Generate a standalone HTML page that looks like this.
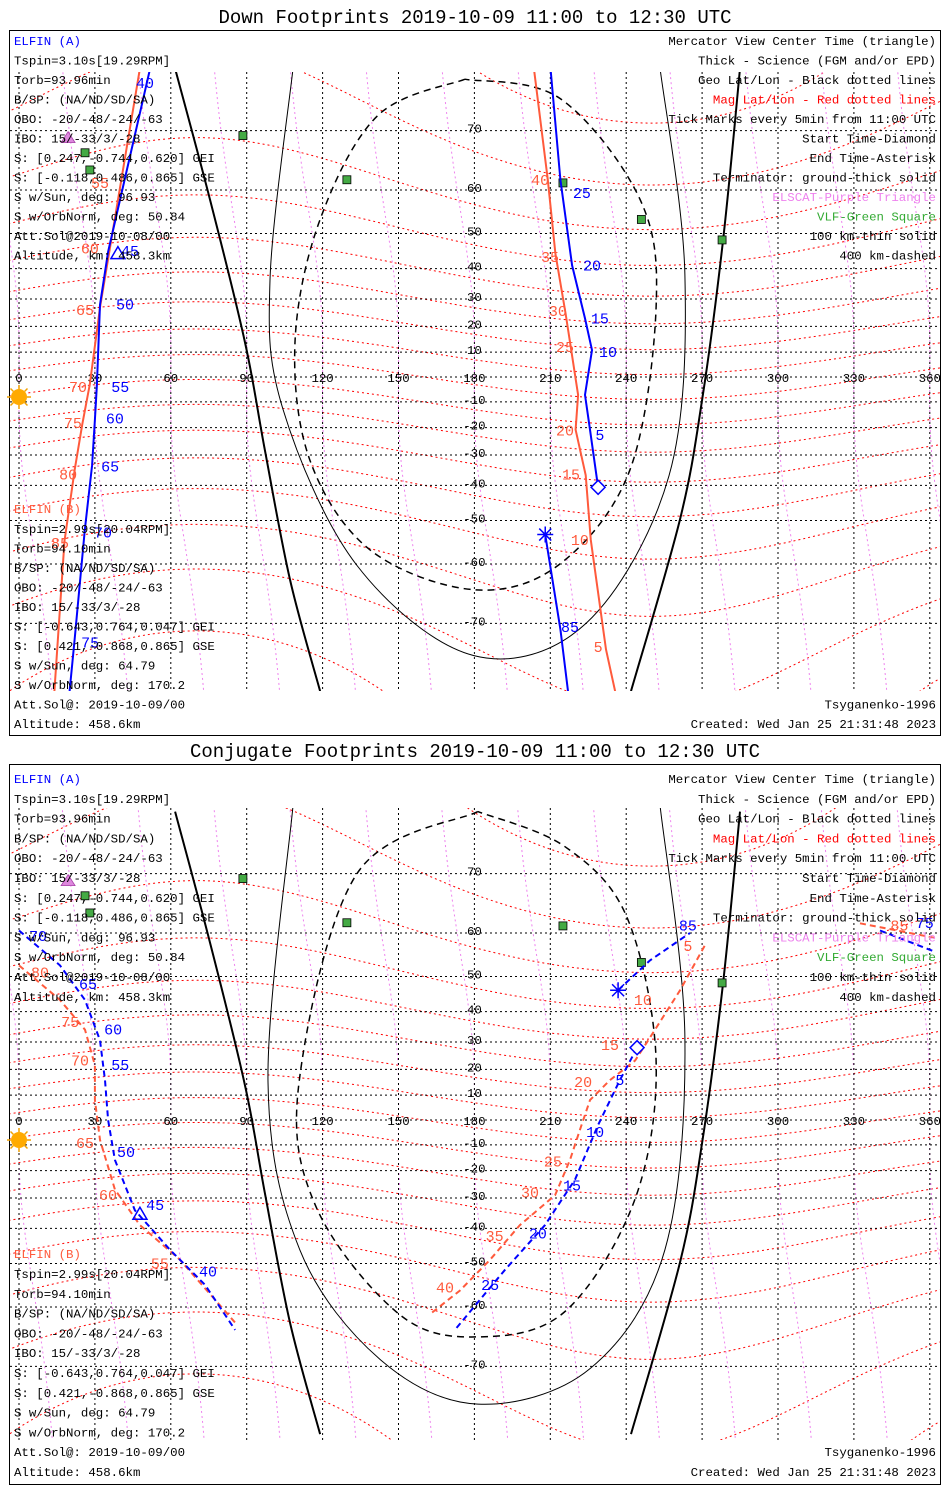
<!DOCTYPE html>
<html><head><meta charset="utf-8"><style>
html,body{margin:0;padding:0;background:#fff;}
svg{display:block;}
text{font-family:"Liberation Mono",monospace;}
</style></head><body>
<svg id="chart" width="950" height="1500" viewBox="0 0 950 1500" xmlns="http://www.w3.org/2000/svg">
<rect x="0" y="0" width="950" height="1500" fill="#fff"/>
</svg>
<script>
// ---------- data ----------
const lonTicks = [0,30,60,90,120,150,180,210,240,270,300,330,360];
const lonTickLabels = ["0","30","60","90","120","150","180","210","240","270","300","330","360"];
const latTicks = [-70,-60,-50,-40,-30,-20,-10,10,20,30,40,50,60,70];
const latTickLabels = ["-70","-60","-50","-40","-30","-20","-10","10","20","30","40","50","60","70"];
const magLatLevels = [-80,-70,-60,-50,-40,-30,-20,-10,0,10,20,30,40,50,60,70,80];
const magLonLevels = [-30,0,30,60,90,120,150,180,210,240,270,300,330,360,390];
const vlfStations = [[88.5,69.3],[129.6,62],[26.1,66.7],[28,63.8],[215,61.4],[246,53.5],[277.9,48.3]];
const elscatStations = [[16.2,78],[19.4,69]];

// Down footprints
const downTermThickL = [[61.7,77],[75.5,58],[89.3,14],[97.2,-28.3],[107.1,-63],[119,-77.5]];
const downTermThickR = [[285,77],[278.3,48.3],[270,-9.2],[261.3,-49.6],[241.9,-77.5]];
const downThin = [[108.3,77],[99.2,36.4],[104.3,-12.8],[133.6,-60.3],[179.8,-74],[224.1,-70],[256.9,-37],[263.2,38],[253.4,77]];
const downDashed = [[176.3,76],[141.9,72],[119,53.5],[109.1,14],[115,-31.8],[138.7,-57],[179.8,-64.8],[213.8,-60],[241.5,-35],[251.8,27],[245.5,58],[213.8,74],[176.3,76]];
const downA1 = [[209,79.5],[214,62],[218.6,41],[223.7,23],[226.5,10.8],[223.7,-7.2],[225.7,-20.8],[228.9,-40.6]];
const downA1Ticks = [["30",211.9,77.9],["25",222.5,59.4],["20",226.5,41],["15",229.6,23],["10",232.8,10],["5",229.6,-22.7]];
const downA2 = [[208,-53.5],[214,-70.8],[217,-77.5]];
const downA2Ticks = [["85",217.8,-70.5]];
const downA3 = [[51.8,77],[35.2,45],[32,28],[30.8,-3.2],[30,-17],[28.9,-33.5],[26,-52.4],[22,-72],[20,-77.5]];
const downA3Ticks = [["40",49.8,75.6],["45",43.9,45.3],["50",41.9,28],["55",40,-4],["60",37.9,-16.5],["65",36,-34],["70",33.2,-53],["75",28.1,-72.5]];
const downB1 = [[202,79.5],[209,62],[212,44.5],[216,25],[218,12.7],[221,-7.2],[220,-20.8],[224,-36.8],[226,-54.8],[232,-73.3],[235.6,-77.5]];
const downB1Ticks = [["40",206,62],["35",209.9,43.5],["30",213,25.7],["25",215.8,12],["20",215.8,-21],["15",218.2,-36.5],["10",221.7,-54.8],["5",228.9,-73]];
const downB2 = [[47.8,77],[32,27],[28,-3],[25,-18.7],[22,-35],[18,-55],[14,-77.5]];
const downB2Ticks = [["55",32,61.4],["60",28,46],["65",26.1,26],["70",23.3,-4],["75",21.3,-18.3],["80",19.4,-36.5],["85",16.2,-55.5]];
const downStart = [228.9,-40.6];
const downEnd = [208,-53.5];
const downCenter = [39.1,44.5];

// Conjugate footprints
const conjThin = [[108.3,77.5],[98.4,15.2],[111,-46.3],[142.7,-69],[181.4,-74.6],[225.7,-70.3],[255.3,-46.3],[263.2,31.4],[253.4,77.5]];
const conjDashed = [[181.4,77],[133.6,70],[110.7,15.2],[117.4,-33],[150.2,-61.4],[181.4,-65.5],[215.8,-60.9],[243.5,-30.3],[251.8,23.3],[240.3,63],[215.8,73.4],[181.4,77]];
const conjA1 = [[244.3,28],[237.5,15.9],[228.9,-2],[219.8,-23.3],[207.9,-39],[192.1,-51.6],[182.2,-58.5],[172.3,-64.3]];
const conjA1Ticks = [["5",237.5,16],["10",227.7,-4.8],["15",218.6,-25.5],["20",205.1,-41.6],["25",186.2,-55.3]];
const conjA2 = [[0,60.5],[16.2,52.8],[26.1,43.5],[32,30.6],[34,15.9],[35.2,0],[37.9,-15.9],[45.8,-34.2],[59.7,-46.3],[73.5,-55.2],[85.4,-64.3]];
const conjA2Ticks = [["70",7.5,59.4],["65",27.3,48],["60",37.2,34.2],["55",40,21.6],["50",42.3,-12.8],["45",53.8,-32.5],["40",74.7,-52]];
const conjA3 = [[236.8,46.3],[249.4,54],[265.2,60]];
const conjA3Ticks = [["85",264.4,61.5]];
const conjA4 = [[340.3,60.5],[362,56]];
const conjA4Ticks = [["75",358,62]];
const conjB1 = [[271,57.3],[261.3,46.3],[251.4,34.2],[243.5,23.3],[233.6,15.9],[225.7,8],[221.7,-4],[217.8,-15.9],[211.9,-29],[198,-39],[186.2,-49],[174.3,-56.5],[162.5,-61.4]];
const conjB1Ticks = [["5",264.4,57.3],["10",246.6,43.5],["15",233.6,29],["20",223,15.2],["25",211,-16.5],["30",202,-28],["35",188,-42.3],["40",168.4,-55.8]];
const conjB2 = [[0,52.8],[16.2,43.5],[26.1,34.2],[30,21.6],[30,8],[32,-8],[37.9,-27],[47.8,-39],[63.6,-49],[85.4,-63]];
const conjB2Ticks = [["80",8.3,51],["75",20.2,36.8],["70",24.1,23.3],["65",26.1,-9.2],["60",35.2,-29],["55",55.7,-50]];
const conjB3 = [[332.4,61.9],[362,59]];
const conjB3Ticks = [["85",348,61.5]];
const conjStart = [244.3,28];
const conjEnd = [236.8,46.3];
const conjCenter = [47.8,-35.5];

const leftTextA = ["Tspin=3.10s[19.29RPM]","Torb=93.96min","B/SP: (NA/ND/SD/SA)","OBO: -20/-48/-24/-63","IBO: 15/-33/3/-28","S: [0.247,-0.744,0.620] GEI","S: [-0.118,0.486,0.865] GSE","S w/Sun, deg: 96.93","S w/OrbNorm, deg: 50.84","Att.Sol@2019-10-08/00","Altitude, km: 458.3km"];
const leftTextB = ["Tspin=2.99s[20.04RPM]","Torb=94.10min","B/SP: (NA/ND/SD/SA)","OBO: -20/-48/-24/-63","IBO: 15/-33/3/-28","S: [-0.643,0.764,0.047] GEI","S: [0.421,-0.868,0.865] GSE","S w/Sun, deg: 64.79","S w/OrbNorm, deg: 170.2","Att.Sol@: 2019-10-09/00","Altitude: 458.6km"];
const rightText = ["Mercator View Center Time (triangle)","Thick - Science (FGM and/or EPD)","Geo Lat/Lon - Black dotted lines","Mag Lat/Lon - Red dotted lines","Tick Marks every 5min from 11:00 UTC","Start Time-Diamond","End Time-Asterisk","Terminator: ground-thick solid","ELSCAT-Purple Triangle","VLF-Green Square","100 km-thin solid","400 km-dashed"];
const rightColors = ["#000","#000","#000","#ff0000","#000","#000","#000","#000","#ee82ee","#33aa33","#000","#000"];

// ---------- drawing ----------
const NS="http://www.w3.org/2000/svg";
const svg=document.getElementById('chart');
const BLUE="#0000ff", ORANGE="#ff5a3c";
function mk(tag,attrs,parent){const e=document.createElementNS(NS,tag);for(const k in attrs)e.setAttribute(k,attrs[k]);(parent||svg).appendChild(e);return e;}
function xScale(lon){return 19+lon*2.53;}
function yScale(lat,y0){const r=lat*Math.PI/180;return y0-142*Math.log(Math.tan(Math.PI/4+r/2));}
function smoothPath(P){
  if(P.length<3) return P.map((p,i)=>(i?'L':'M')+p[0].toFixed(1)+','+p[1].toFixed(1)).join('');
  let d='M'+P[0][0].toFixed(1)+','+P[0][1].toFixed(1);
  for(let i=0;i<P.length-1;i++){
    const p0=P[Math.max(0,i-1)],p1=P[i],p2=P[i+1],p3=P[Math.min(P.length-1,i+2)];
    const c1=[p1[0]+(p2[0]-p0[0])/6,p1[1]+(p2[1]-p0[1])/6];
    const c2=[p2[0]-(p3[0]-p1[0])/6,p2[1]-(p3[1]-p1[1])/6];
    d+='C'+c1[0].toFixed(1)+','+c1[1].toFixed(1)+' '+c2[0].toFixed(1)+','+c2[1].toFixed(1)+' '+p2[0].toFixed(1)+','+p2[1].toFixed(1);
  }
  return d;
}

function drawPanel(cfg){
  const g=mk('g',{});
  
  
  const t=mk('text',{x:475,y:cfg.titleY,'font-size':'19','text-anchor':'middle',fill:'#000'},g);
  t.textContent=cfg.title;
  
  
  const box=mk('rect',{x:9.5,y:cfg.boxTop+0.5,width:931,height:cfg.boxBot-cfg.boxTop,fill:'none',stroke:'#000','stroke-width':1},g);
  
  
  const cid='clip'+cfg.id;
  const cp=mk('clipPath',{id:cid},g);
  mk('rect',{x:10,y:cfg.mapTop,width:930,height:cfg.mapBot-cfg.mapTop},cp);
  const m=mk('g',{'clip-path':'url(#'+cid+')'},g);
  
  
  const y0=cfg.y0;
  const X=xScale, Y=l=>yScale(l,y0);
  const line=(pts,attrs,name,smooth)=>{const P=pts.map(p=>[X(p[0]),Y(p[1])]);const d=smooth?smoothPath(P):P.map((p,i)=>(i?'L':'M')+p[0].toFixed(1)+','+p[1].toFixed(1)).join('');const p=mk('path',Object.assign({d:d,fill:'none'},attrs),m);return p;};
  magLatLevels.forEach(ml=>{const pts=[];for(let lon=-10;lon<=370;lon+=10){pts.push([lon,Math.max(-85,Math.min(85,ml-9*Math.cos((lon-250)*Math.PI/180)))]);}line(pts,{stroke:'#ff0000','stroke-width':1,'stroke-dasharray':'2,3'},'mag-lat-line',true);});
  magLonLevels.forEach(L=>{const pts=[];for(let lat=-82;lat<=82;lat+=4){pts.push([L-0.2*lat+6*Math.sin(lat*Math.PI/90),lat]);}line(pts,{stroke:'#ee82ee','stroke-width':1,'stroke-dasharray':'2,3'},'mag-lon-line',true);});
  lonTicks.forEach(lon=>{const l=mk('line',{x1:X(lon),x2:X(lon),y1:cfg.mapTop,y2:cfg.mapBot,stroke:'#000','stroke-width':1,'stroke-dasharray':'2,3'},m);});
  latTicks.concat([0]).forEach(lat=>{const l=mk('line',{x1:10,x2:940,y1:Y(lat),y2:Y(lat),stroke:'#000','stroke-width':1,'stroke-dasharray':'2,3'},m);});
  lonTicks.forEach((lon,i)=>{const tx=mk('text',{x:X(lon),y:Y(0)+5,'font-size':'12.4','text-anchor':'middle',fill:'#000'},m);tx.textContent=lonTickLabels[i];});
  latTicks.forEach((lat,i)=>{const tx=mk('text',{x:X(180),y:Y(lat)+2,'font-size':'12.4','text-anchor':'middle',fill:'#000'},m);tx.textContent=latTickLabels[i];});
  line(downTermThickL,{stroke:'#000','stroke-width':2},'terminator-left',true);
  line(downTermThickR,{stroke:'#000','stroke-width':2},'terminator-right',true);
  line(cfg.thin,{stroke:'#000','stroke-width':1},'footprint-100km-circle',true);
  line(cfg.dashed,{stroke:'#000','stroke-width':1.5,'stroke-dasharray':'7,5'},'footprint-400km-circle',true);
  vlfStations.forEach(s=>{const r=mk('rect',{x:X(s[0])-4,y:Y(s[1])-4,width:8,height:8,fill:'#44aa44',stroke:'#000','stroke-width':0.8},m);});
  elscatStations.forEach(s=>{const x=X(s[0]),y=Y(s[1]);const p=mk('path',{d:`M${x},${y-6}L${x+7},${y+5}L${x-7},${y+5}Z`,fill:'#dd88dd',stroke:'#aa44aa','stroke-width':0.8},m);});
  const dash=cfg.dashedTracks?{'stroke-dasharray':'6,4'}:{};
  cfg.tracks.forEach(tr=>{
    line(tr.pts,Object.assign({stroke:tr.color,'stroke-width':2},dash),tr.name,false);
    tr.ticks.forEach(tk=>{const tx=mk('text',{x:X(tk[1]),y:Y(tk[2])+5,'font-size':'15','text-anchor':'middle',fill:tr.color},m);tx.textContent=tk[0];});
  });
  {const x=X(cfg.start[0]),y=Y(cfg.start[1]);const p=mk('path',{d:`M${x},${y-7}L${x+7},${y}L${x},${y+7}L${x-7},${y}Z`,fill:'#fff',stroke:BLUE,'stroke-width':1.5},m);}
  {const x=X(cfg.end[0]),y=Y(cfg.end[1]);const p=mk('path',{d:`M${x-8},${y}L${x+8},${y}M${x},${y-8}L${x},${y+8}M${x-6},${y-6}L${x+6},${y+6}M${x-6},${y+6}L${x+6},${y-6}`,stroke:BLUE,'stroke-width':1.5},m);}
  {const x=X(cfg.center[0]),y=Y(cfg.center[1]);const p=mk('path',{d:`M${x},${y-7}L${x+7},${y+5}L${x-7},${y+5}Z`,fill:'none',stroke:BLUE,'stroke-width':1.5},m);}
  {const x=19,y=Y(0)+20;const sg=mk('g',{},g);
   for(let a=0;a<8;a++){const c=Math.cos(a*Math.PI/4),s=Math.sin(a*Math.PI/4);mk('line',{x1:x+c*8,y1:y+s*8,x2:x+c*12,y2:y+s*12,stroke:'#f0a000','stroke-width':1.5},sg);}
   mk('circle',{cx:x,cy:y,r:8,fill:'#ffaa00'},sg);}
  const lh=cfg.lineH, ty=cfg.textTop;
  const addT=(s,x,y,anchor,color,name)=>{const tx=mk('text',{x:x,y:y+4,'font-size':'12.4','text-anchor':anchor,fill:color},g);tx.textContent=s;};
  addT('ELFIN (A)',14,ty,'start',BLUE,'elfin-a-heading');
  leftTextA.forEach((s,i)=>addT(s,14,ty+lh*(i+1),'start','#000','elfin-a-info'));
  addT('ELFIN (B)',14,ty+lh*24,'start',ORANGE,'elfin-b-heading');
  leftTextB.forEach((s,i)=>addT(s,14,ty+lh*(25+i),'start','#000','elfin-b-info'));
  rightText.forEach((s,i)=>addT(s,936,ty+lh*i,'end',rightColors[i],'legend-entry'));
  addT('Tsyganenko-1996',936,ty+lh*34,'end','#000','model-label');
  addT('Created: Wed Jan 25 21:31:48 2023',936,ty+lh*35,'end','#000','created-timestamp');
}

drawPanel({id:'down',name:'down-footprints-panel',title:'Down Footprints 2019-10-09 11:00 to 12:30 UTC',titleY:23,boxTop:30,boxBot:735,mapTop:72,mapBot:691,y0:377,textTop:41,lineH:19.51,
  thin:downThin,dashed:downDashed,dashedTracks:false,start:downStart,end:downEnd,center:downCenter,
  tracks:[{pts:downB1,ticks:downB1Ticks,color:ORANGE,name:'elfin-b-track'},{pts:downB2,ticks:downB2Ticks,color:ORANGE,name:'elfin-b-track'},
          {pts:downA1,ticks:downA1Ticks,color:BLUE,name:'elfin-a-track'},{pts:downA2,ticks:downA2Ticks,color:BLUE,name:'elfin-a-track'},{pts:downA3,ticks:downA3Ticks,color:BLUE,name:'elfin-a-track'}]});
drawPanel({id:'conj',name:'conjugate-footprints-panel',title:'Conjugate Footprints 2019-10-09 11:00 to 12:30 UTC',titleY:757,boxTop:764,boxBot:1484,mapTop:808,mapBot:1440,y0:1120,textTop:779,lineH:19.8,
  thin:conjThin,dashed:conjDashed,dashedTracks:true,start:conjStart,end:conjEnd,center:conjCenter,
  tracks:[{pts:conjB1,ticks:conjB1Ticks,color:ORANGE,name:'elfin-b-track'},{pts:conjB2,ticks:conjB2Ticks,color:ORANGE,name:'elfin-b-track'},{pts:conjB3,ticks:conjB3Ticks,color:ORANGE,name:'elfin-b-track'},
          {pts:conjA1,ticks:conjA1Ticks,color:BLUE,name:'elfin-a-track'},{pts:conjA2,ticks:conjA2Ticks,color:BLUE,name:'elfin-a-track'},{pts:conjA3,ticks:conjA3Ticks,color:BLUE,name:'elfin-a-track'},{pts:conjA4,ticks:conjA4Ticks,color:BLUE,name:'elfin-a-track'}]});
</script>
</body></html>
